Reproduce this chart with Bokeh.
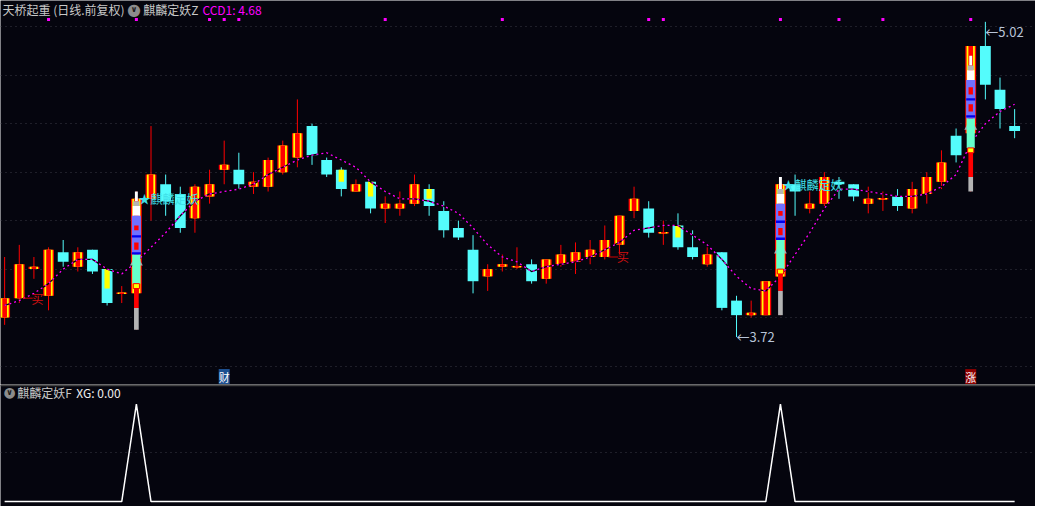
import numpy as np
from bokeh.plotting import figure
from bokeh.layouts import column
from bokeh.models import Label, Range1d, Grid, FixedTicker, Span
from bokeh.core.properties import value
from bokeh.embed import file_html
from bokeh.resources import INLINE

# ---------------- data ----------------
stock_title = "天桥起重 (日线.前复权)"
main_name = "麒麟定妖Z"
sub_name = "麒麟定妖F"
signal_label = "★麒麟定妖"

opens = [3.80, 3.88, 4.00, 3.89, 4.07, 4.01, 4.08, 4.00, 3.90, 3.90,
         4.29, 4.35, 4.31, 4.21, 4.30, 4.41, 4.41, 4.34, 4.34, 4.40,
         4.46, 4.59, 4.45, 4.41, 4.32, 4.36, 4.25, 4.25, 4.27, 4.33,
         4.24, 4.17, 4.08, 3.97, 4.01, 4.01, 4.02, 3.96, 4.02, 4.03,
         4.05, 4.05, 4.10, 4.24, 4.25, 4.15, 4.18, 4.09, 4.02, 4.07,
         3.87, 3.81, 3.81, 3.97, 4.35, 4.25, 4.27, 4.36, 4.35, 4.27,
         4.29, 4.30, 4.25, 4.31, 4.36, 4.55, 4.56, 4.92, 4.74, 4.59]
closes = [3.88, 4.02, 4.01, 4.08, 4.03, 4.07, 3.99, 3.86, 3.90, 4.29,
          4.39, 4.28, 4.17, 4.34, 4.35, 4.43, 4.35, 4.36, 4.45, 4.51,
          4.56, 4.47, 4.39, 4.33, 4.35, 4.25, 4.27, 4.27, 4.35, 4.26,
          4.16, 4.13, 3.95, 4.00, 4.02, 4.01, 3.95, 4.04, 4.06, 4.07,
          4.08, 4.12, 4.22, 4.29, 4.15, 4.15, 4.09, 4.05, 4.06, 3.84,
          3.81, 3.82, 3.95, 4.35, 4.32, 4.27, 4.38, 4.35, 4.30, 4.29,
          4.29, 4.26, 4.33, 4.38, 4.44, 4.47, 4.92, 4.76, 4.66, 4.57]
highs = [4.05, 4.10, 4.05, 4.09, 4.12, 4.09, 4.08, 4.00, 3.93, 4.32,
         4.59, 4.39, 4.34, 4.35, 4.41, 4.53, 4.48, 4.40, 4.46, 4.53,
         4.70, 4.60, 4.46, 4.42, 4.37, 4.36, 4.30, 4.32, 4.39, 4.35,
         4.28, 4.20, 4.14, 4.02, 4.06, 4.09, 4.04, 4.04, 4.10, 4.11,
         4.12, 4.18, 4.22, 4.34, 4.28, 4.20, 4.23, 4.16, 4.09, 4.07,
         3.89, 3.87, 3.95, 4.38, 4.39, 4.32, 4.40, 4.38, 4.35, 4.34,
         4.32, 4.33, 4.36, 4.40, 4.49, 4.58, 4.92, 5.02, 4.79, 4.66]
lows = [3.77, 3.86, 3.96, 3.83, 4.01, 3.99, 3.98, 3.85, 3.86, 3.75,
        4.20, 4.22, 4.15, 4.15, 4.27, 4.35, 4.33, 4.31, 4.32, 4.39,
        4.42, 4.43, 4.38, 4.30, 4.32, 4.23, 4.19, 4.22, 4.26, 4.22,
        4.13, 4.12, 3.90, 3.91, 3.99, 4.00, 3.94, 3.94, 4.01, 3.98,
        4.02, 4.04, 4.06, 4.21, 4.13, 4.10, 4.08, 4.04, 4.01, 3.83,
        3.72, 3.80, 3.81, 3.81, 4.22, 4.23, 4.26, 4.29, 4.28, 4.23,
        4.24, 4.24, 4.23, 4.27, 4.33, 4.44, 4.32, 4.70, 4.58, 4.54]
ccd1 = [3.85, 3.87, 3.90, 3.94, 4.00, 4.04, 4.04, 4.00, 3.98, 4.03,
        4.09, 4.15, 4.22, 4.28, 4.31, 4.32, 4.33, 4.35, 4.39, 4.42,
        4.45, 4.47, 4.48, 4.45, 4.42, 4.36, 4.32, 4.29, 4.29, 4.28,
        4.26, 4.23, 4.17, 4.10, 4.05, 4.03, 3.99, 4.01, 4.02, 4.03,
        4.05, 4.08, 4.11, 4.16, 4.17, 4.18, 4.18, 4.14, 4.10, 4.04,
        3.97, 3.92, 3.91, 3.97, 4.06, 4.15, 4.25, 4.33, 4.33, 4.32,
        4.31, 4.30, 4.30, 4.31, 4.34, 4.39, 4.52, 4.60, 4.65, 4.68]
xg = [0, 0, 0, 0, 0, 0, 0, 0, 0, 1,
      0, 0, 0, 0, 0, 0, 0, 0, 0, 0,
      0, 0, 0, 0, 0, 0, 0, 0, 0, 0,
      0, 0, 0, 0, 0, 0, 0, 0, 0, 0,
      0, 0, 0, 0, 0, 0, 0, 0, 0, 0,
      0, 0, 0, 1, 0, 0, 0, 0, 0, 0,
      0, 0, 0, 0, 0, 0, 0, 0, 0, 0]

# yellow inner blocks on falling candles
hollow_idx = [7, 23, 25, 29, 46]
hollow_bottom = [3.92, 4.36, 4.30, 4.29, 4.13]

# magenta signal dots on the top row
signal_dots = [3, 9, 14, 15, 16, 26, 34, 44, 45, 53, 57, 60, 66]
signal_dot_level = 5.03

# "买" marks
buy_idx = [2, 42]
buy_price = [3.88, 4.05]

# bottom tags
tag_idx = [15, 66]
tag_text = ["财", "涨"]
tag_color = ["#1d4f8f", "#8e0000"]

# big indicator columns (麒麟定妖 stacks)
sp_idx = [9, 53, 66]
sp_top = [4.32, 4.38, 4.88]
sp_cap = [4.28, 4.33, 4.84]
sp_white = [4.26, 4.31, 4.82]
sp_lav = [4.22, 4.27, 4.78]
sp_aqua = [4.06, 4.12, 4.62]
sp_yel = [3.94, 4.00, 4.50]
sp_red = [3.92, 3.98, 4.48]
sp_gray = [3.84, 3.91, 4.38]
sp_end = [3.75, 3.81, 4.32]
sp_arrow = [4.03, 4.08, 4.59]
sp_sq1_top = [4.18, 4.24, 4.75]
sp_sq1_bot = [4.16, 4.22, 4.72]
sp_sq2_top = [4.11, 4.17, 4.68]
sp_sq2_bot = [4.08, 4.14, 4.65]
sp_blue1 = [4.135, 4.195, 4.70]
sp_blue2 = [4.065, 4.125, 4.63]
signal_idx = [9, 53]

grid_prices = [3.6, 3.8, 4.0, 4.2, 4.4, 4.6, 4.8, 5.0]
xg_grid = [0.5]

# ---------------- layout constants ----------------
W, HT, HB = 1035, 384, 122
SX, SY = W / 1051, (HT + HB) / 522
BG = "#05050e"
RED, YEL, CYAN = "#ff0000", "#ffff00", "#54fcfc"
FONT = "Noto Sans CJK SC"

n = len(opens)
idx = np.arange(n)
o = np.array(opens); c = np.array(closes); h = np.array(highs); l = np.array(lows)
up = c >= o
dn = ~up

x_start, x_end = -4.2 / 14.864, (1051 - 4.2) / 14.864

top = figure(width=W, height=HT, x_range=Range1d(x_start, x_end),
             y_range=Range1d(5.108 - 0.004 * 396, 5.108),
             output_backend="svg", toolbar_location=None, min_border=0,
             x_axis_location=None, y_axis_location=None,
             background_fill_color=BG, border_fill_color=BG, outline_line_color=None)
top.center = []
top.add_layout(Grid(dimension=1, ticker=FixedTicker(ticks=grid_prices),
                    grid_line_color="#3a3a44", grid_line_dash="1 4", grid_line_width=1))

# wicks
top.segment(x0=idx[up], y0=l[up], x1=idx[up], y1=h[up], line_color=RED, line_width=1)
top.segment(x0=idx[dn], y0=l[dn], x1=idx[dn], y1=h[dn], line_color=CYAN, line_width=1)

mid = (o + c) / 2
hgt = np.maximum(np.abs(c - o), 0.006)
top.rect(x=idx[up], y=mid[up], width=0.74, height=hgt[up], fill_color=RED, line_color=None)
top.rect(x=idx[up], y=mid[up], width=0.56, height=hgt[up], fill_color=YEL, line_color=None)
top.rect(x=idx[up], y=mid[up], width=0.32, height=hgt[up], fill_color=RED, line_color=None)
top.rect(x=idx[dn], y=mid[dn], width=0.74, height=hgt[dn], fill_color=CYAN, line_color=None)

hollow_top = [opens[i] for i in hollow_idx]
top.vbar(x=hollow_idx, top=hollow_top, bottom=hollow_bottom, width=0.36, fill_color=YEL, line_color=None)

# CCD1 dashed line
top.line(idx, ccd1, line_color="#000000", line_width=1.3)
top.line(idx, ccd1, line_color="#ff00ff", line_width=1.3, line_dash="2 3")

# big indicator stacks
top.scatter(x=sp_idx, y=sp_arrow, marker="triangle", size=13, fill_color="#a8a8a8", line_color=None)
layers = [(sp_top, sp_cap, "#ffffff", 0.2),
          (sp_cap, sp_white, "#b4b4b4", 0.42),
          (sp_white, sp_lav, "#ffffff", 0.5),
          (sp_lav, sp_aqua, "#7070ff", 0.62),
          (sp_aqua, sp_yel, "#66ffcc", 0.55),
          (sp_red, sp_gray, RED, 0.32),
          (sp_gray, sp_end, "#b4b4b4", 0.32)]
for t, b, col, wd in layers:
    top.vbar(x=sp_idx, top=t, bottom=b, width=wd, fill_color=col, line_color=None)
top.vbar(x=sp_idx, top=sp_yel, bottom=sp_red, width=0.42, fill_color=YEL, line_color=RED, line_width=1)
top.vbar(x=sp_idx, top=sp_sq1_top, bottom=sp_sq1_bot, width=0.3, fill_color=RED, line_color=None)
top.vbar(x=sp_idx, top=sp_sq2_top, bottom=sp_sq2_bot, width=0.3, fill_color=RED, line_color=None)
top.rect(x=sp_idx, y=sp_blue1, width=0.62, height=0.01, fill_color="#0000ee", line_color=None)
top.rect(x=sp_idx, y=sp_blue2, width=0.62, height=0.01, fill_color="#0000ee", line_color=None)

# magenta dots
top.scatter(x=signal_dots, y=[signal_dot_level] * len(signal_dots), marker="square", size=3,
            fill_color="#ff00ff", line_color=None)

# signal texts
top.text(x=signal_idx, y=[closes[i] for i in signal_idx], text=[signal_label] * len(signal_idx),
         x_offset=2, text_color="#40e0e8", text_font=value(FONT), text_font_size=value("12px"),
         text_baseline="middle", text_align="left")

# buy marks
top.segment(x0=[i - 0.75 for i in buy_idx], y0=buy_price, x1=[i - 0.08 for i in buy_idx], y1=buy_price,
            line_color="#d00000", line_width=1)
top.text(x=[i + 0.25 for i in buy_idx], y=buy_price, text=["买"] * len(buy_idx),
         text_color="#d01010", text_font=value(FONT), text_font_size=value("12px"),
         text_align="center", text_baseline="middle")

# extreme labels
imin = int(np.argmin(l)); imax = int(np.argmax(h))
top.text(x=[imin], y=[lows[imin]], text=[f"←{lows[imin]:.2f}"], text_color="#b8c4d8",
         text_font=value(FONT), text_font_size=value("13px"), text_align="left", text_baseline="middle")
top.text(x=[imax], y=[highs[imax]], text=[f"←{highs[imax]:.2f}"], text_color="#b8c4d8",
         text_font=value(FONT), text_font_size=value("13px"), text_align="left", text_baseline="top")

# header
hy = HT - 9 * SY
top.add_layout(Label(x=2 * SX, y=hy, x_units="screen", y_units="screen", text=stock_title,
                     text_color="#c8c8c8", text_font=FONT, text_font_size="12px", text_baseline="middle"))
top.add_layout(Label(x=135.5 * SX, y=hy, x_units="screen", y_units="screen", text="●",
                     text_color="#8c8c8c", text_font="DejaVu Sans", text_font_size="16px",
                     text_baseline="middle", text_align="center"))
top.add_layout(Label(x=135.5 * SX, y=hy, x_units="screen", y_units="screen", text="∨",
                     text_color="#1a1a1a", text_font="DejaVu Sans", text_font_size="8px",
                     text_font_style="bold", text_baseline="middle", text_align="center"))
top.add_layout(Label(x=145 * SX, y=hy, x_units="screen", y_units="screen", text=main_name,
                     text_color="#c8c8c8", text_font=FONT, text_font_size="12px", text_baseline="middle"))
top.add_layout(Label(x=205 * SX, y=hy, x_units="screen", y_units="screen", text=f"CCD1: {ccd1[-1]:.2f}",
                     text_color="#ff00ff", text_font=FONT, text_font_size="12px", text_baseline="middle"))

# tags at bottom of top panel
for ti, tt, tc in zip(tag_idx, tag_text, tag_color):
    top.add_layout(Label(x=ti, y=HT - 388.5 * SY, y_units="screen", text=tt, text_color="#ffffff",
                         text_font=FONT, text_font_size="11px", text_align="center",
                         text_baseline="middle", background_fill_color=tc))

# ---------------- bottom panel ----------------
bot = figure(width=W, height=HB, x_range=top.x_range, y_range=Range1d(-0.05, 1.20),
             output_backend="svg", toolbar_location=None, min_border=0,
             x_axis_location=None, y_axis_location=None,
             background_fill_color=BG, border_fill_color=BG, outline_line_color=None)
bot.center = []
bot.add_layout(Grid(dimension=1, ticker=FixedTicker(ticks=xg_grid),
                    grid_line_color="#3a3a44", grid_line_dash="1 4", grid_line_width=1))
bot.add_layout(Span(location=1.192, dimension="width", line_color="#444444", line_width=2))
bot.line(idx, xg, line_color="#ffffff", line_width=1.5)

by = HB - 8 * SY
bot.add_layout(Label(x=9, y=by, x_units="screen", y_units="screen", text="●",
                     text_color="#8c8c8c", text_font="DejaVu Sans", text_font_size="14px",
                     text_baseline="middle", text_align="center"))
bot.add_layout(Label(x=9, y=by, x_units="screen", y_units="screen", text="∨",
                     text_color="#1a1a1a", text_font="DejaVu Sans", text_font_size="8px",
                     text_font_style="bold", text_baseline="middle", text_align="center"))
bot.add_layout(Label(x=17 * SX, y=by, x_units="screen", y_units="screen", text=sub_name,
                     text_color="#c8c8c8", text_font=FONT, text_font_size="12px", text_baseline="middle"))
bot.add_layout(Label(x=77 * SX, y=by, x_units="screen", y_units="screen", text=f"XG: {xg[-1]:.2f}",
                     text_color="#f0f0f0", text_font=FONT, text_font_size="12px", text_baseline="middle"))

layout = column(top, bot, spacing=0)
open("out.html", "w").write(file_html(layout, INLINE, title="天桥起重"))
